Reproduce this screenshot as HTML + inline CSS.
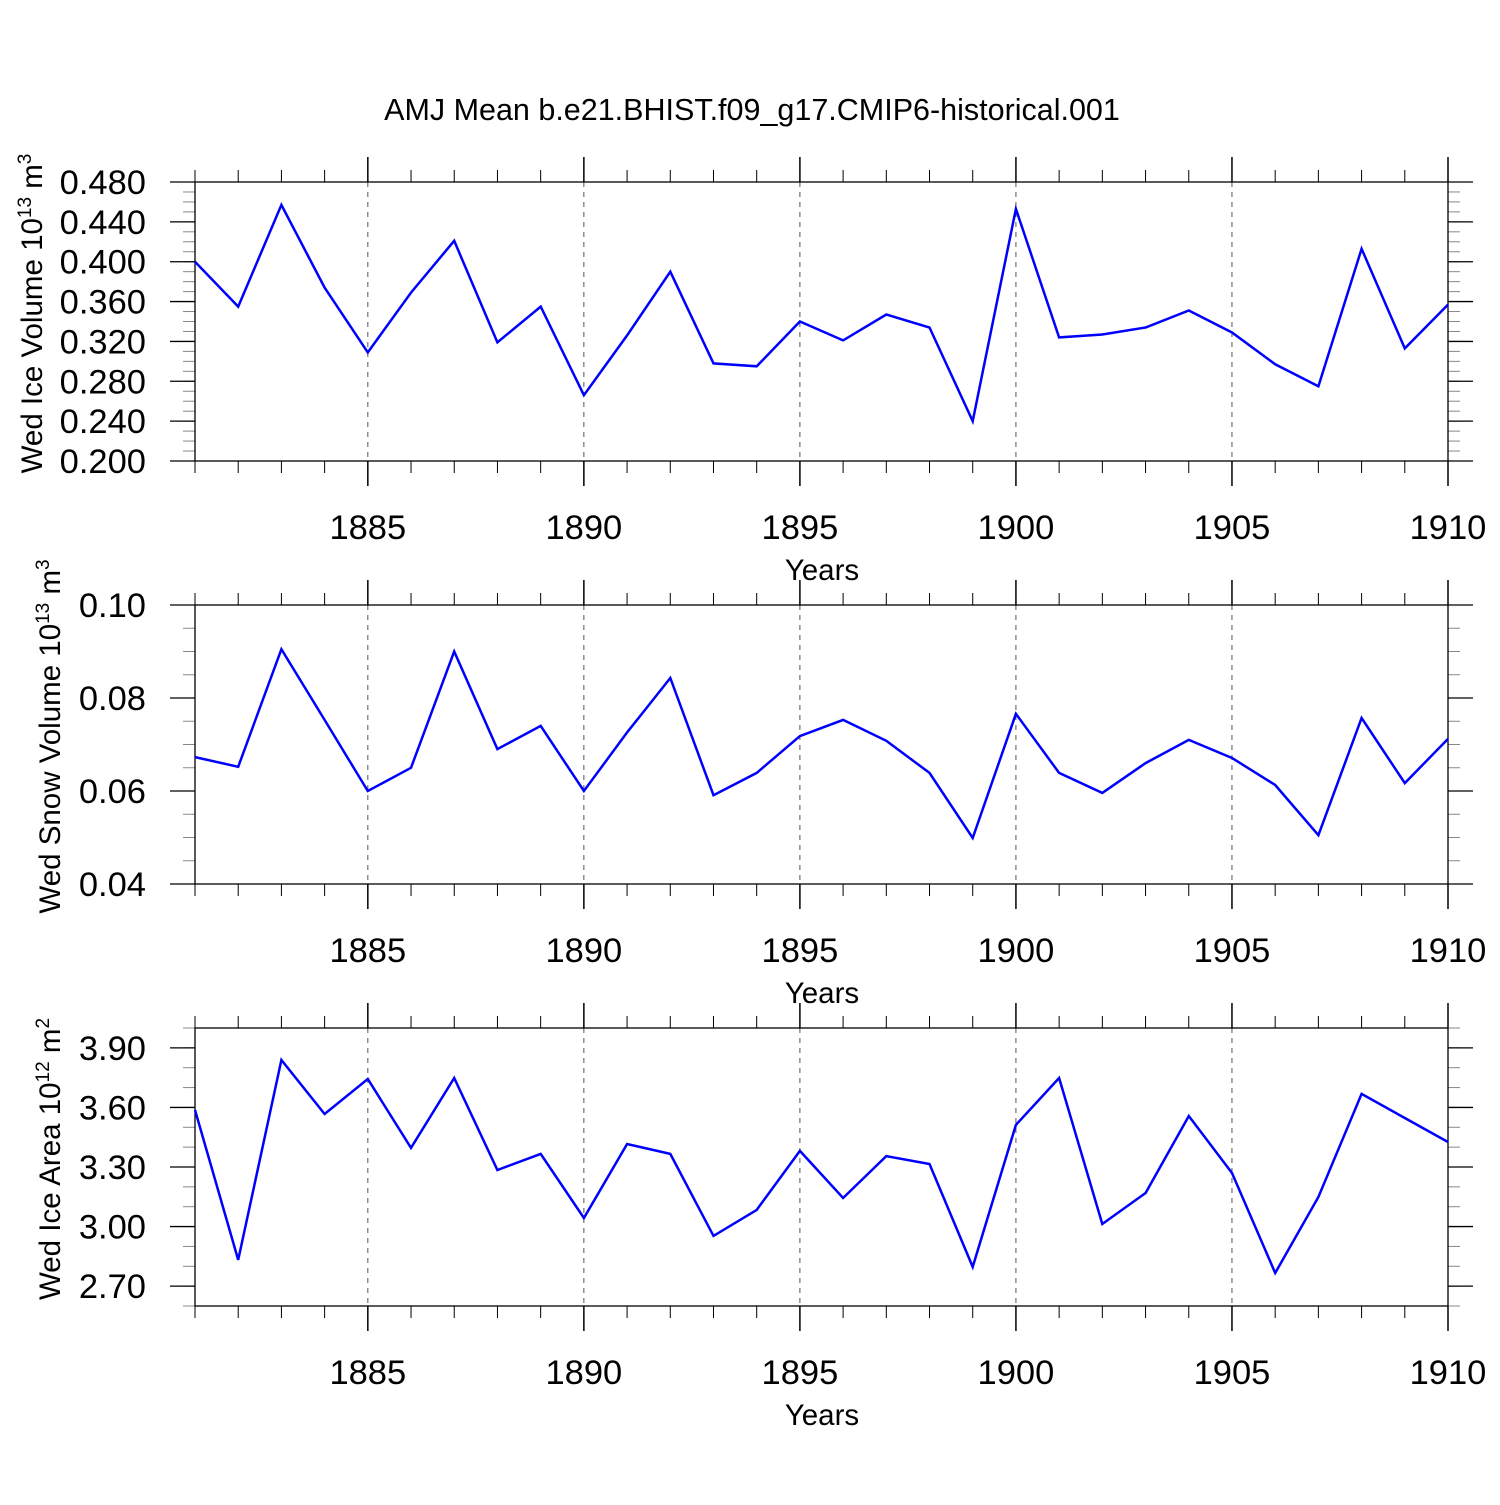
<!DOCTYPE html>
<html><head><meta charset="utf-8"><style>
html,body{margin:0;padding:0;background:#fff;}
svg text{font-family:"Liberation Sans",sans-serif;fill:#000;}
</style></head><body>
<svg id="chart" width="1500" height="1500" xmlns="http://www.w3.org/2000/svg">
<rect width="1500" height="1500" fill="#fff"/>
<text x="752" y="120" font-size="30.5" text-anchor="middle">AMJ Mean b.e21.BHIST.f09_g17.CMIP6-historical.001</text>
</svg>
<script>
const years = [1881,1882,1883,1884,1885,1886,1887,1888,1889,1890,1891,1892,1893,1894,1895,1896,1897,1898,1899,1900,1901,1902,1903,1904,1905,1906,1907,1908,1909,1910];
const iceVolume = [0.400,0.355,0.457,0.374,0.309,0.369,0.421,0.319,0.355,0.266,0.326,0.390,0.298,0.295,0.340,0.321,0.347,0.334,0.240,0.453,0.324,0.327,0.334,0.351,0.329,0.297,0.275,0.413,0.313,0.357];
const snowVolume = [0.0673,0.0652,0.0905,0.0753,0.0600,0.0650,0.0900,0.0690,0.0740,0.0600,0.0726,0.0843,0.0591,0.0639,0.0718,0.0753,0.0708,0.0639,0.0499,0.0766,0.0639,0.0596,0.0660,0.0710,0.0671,0.0613,0.0505,0.0757,0.0617,0.0712];
const iceArea = [3.587,2.832,3.839,3.567,3.743,3.396,3.748,3.285,3.366,3.043,3.416,3.366,2.953,3.084,3.381,3.144,3.355,3.315,2.797,3.512,3.748,3.013,3.169,3.557,3.270,2.766,3.149,3.668,3.547,3.426];
const xTickLabels = [1885,1890,1895,1900,1905,1910];
const iceVolTicks = [0.20,0.24,0.28,0.32,0.36,0.40,0.44,0.48];
const snowTicks = [0.04,0.06,0.08,0.10];
const areaTicks = [2.70,3.00,3.30,3.60,3.90];

const NS='http://www.w3.org/2000/svg';
const svg=document.getElementById('chart');
function mk(tag,attrs,parent){const e=document.createElementNS(NS,tag);for(const k in attrs)e.setAttribute(k,attrs[k]);(parent||svg).appendChild(e);return e;}
const X0=195,X1=1448,YR0=1881,YR1=1910;
function xs(yr){return X0+(yr-YR0)/(YR1-YR0)*(X1-X0);}

function panel(name,top,bot,vmin,vmax,vals,ticks,dec,minorStep,titleMain,titleExp,titleUnit,titleX){
  const g=mk('g',{});
  
  
  const ys=v=>bot-(v-vmin)/(vmax-vmin)*(bot-top);
  xTickLabels.forEach(yr=>{
    const l=mk('line',{x1:xs(yr),x2:xs(yr),y1:top,y2:bot,stroke:'#555','stroke-width':1,'stroke-dasharray':'5,5'},g);
    
    
  });
  for(let yr=YR0;yr<=YR1;yr++){
    const maj=(yr%5===0), len=maj?25:12, x=xs(yr);
    mk('line',{x1:x,x2:x,y1:top-len,y2:top,stroke:'#000','stroke-width':maj?1.5:1},g);
    mk('line',{x1:x,x2:x,y1:bot,y2:bot+len,stroke:'#000','stroke-width':maj?1.5:1},g);
  }
  xTickLabels.forEach(yr=>{
    const t=mk('text',{x:xs(yr),y:bot+78,'font-size':34.5,'text-anchor':'middle'},g);
    t.textContent=yr;
    
    
  });
  const xt=mk('text',{x:822,y:bot+119,'font-size':29.5,'text-anchor':'middle'},g);
  xt.textContent='Years';
  
  
  const n=Math.round((vmax-vmin)/minorStep);
  for(let i=0;i<=n;i++){
    const y=ys(vmin+i*minorStep);
    mk('line',{x1:X0-12,x2:X0,y1:y,y2:y,stroke:'#888','stroke-width':1},g);
    mk('line',{x1:X1,x2:X1+12,y1:y,y2:y,stroke:'#888','stroke-width':1},g);
  }
  ticks.forEach(v=>{
    const y=ys(v);
    mk('line',{x1:X0-25,x2:X0,y1:y,y2:y,stroke:'#000','stroke-width':1.3},g);
    mk('line',{x1:X1,x2:X1+25,y1:y,y2:y,stroke:'#000','stroke-width':1.3},g);
    const t=mk('text',{x:146,y:y+12,'font-size':34.5,'text-anchor':'end'},g);
    t.textContent=v.toFixed(dec);
    
    
  });
  const fr=mk('rect',{x:X0,y:top,width:X1-X0,height:bot-top,fill:'none',stroke:'#000','stroke-width':1.3},g);
  
  
  const pts=years.map((yr,i)=>xs(yr).toFixed(1)+','+ys(vals[i]).toFixed(1)).join(' ');
  const pl=mk('polyline',{points:pts,fill:'none',stroke:'#0000ff','stroke-width':2.5,'stroke-linejoin':'miter'},g);
  
  
  const cy=(top+bot)/2-8;
  const yt=mk('text',{x:titleX,y:cy,'font-size':29.5,'text-anchor':'middle',transform:'rotate(-90 '+titleX+' '+cy+')'},g);
  
  
  const s1=mk('tspan',{},yt); s1.textContent=titleMain+' 10';
  const s2=mk('tspan',{dy:-11,'font-size':19},yt); s2.textContent=titleExp;
  const s3=mk('tspan',{dy:11},yt); s3.textContent=' m';
  const s4=mk('tspan',{dy:-11,'font-size':19},yt); s4.textContent=titleUnit;
}
panel('ice-volume',182,461,0.20,0.48,iceVolume,iceVolTicks,3,0.01,'Wed Ice Volume','13','3',42);
panel('snow-volume',605,884,0.04,0.10,snowVolume,snowTicks,2,0.005,'Wed Snow Volume','13','3',60);
panel('ice-area',1028,1306,2.60,4.00,iceArea,areaTicks,2,0.1,'Wed Ice Area','12','2',60);
</script>
</body></html>
